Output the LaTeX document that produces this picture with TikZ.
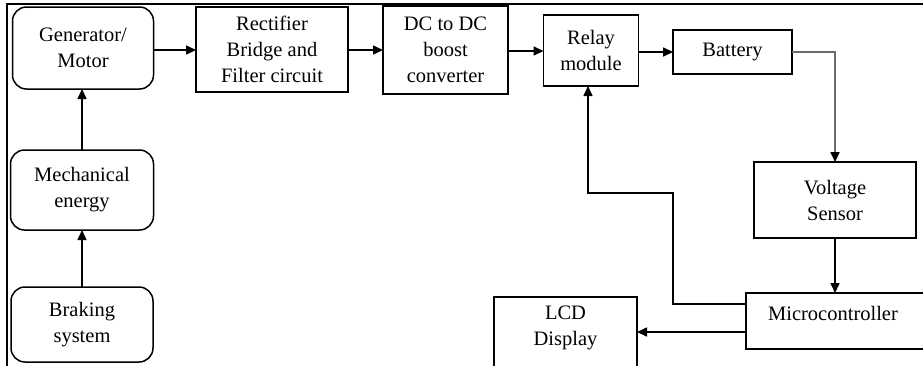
\documentclass[tikz,border=0pt]{standalone}
\usepackage{fontspec}
\setmainfont{Liberation Serif}
\usetikzlibrary{arrows.meta}
\begin{document}
\begin{tikzpicture}[x=1pt,y=-1pt,
  txt/.style={inner sep=0pt, outer sep=0pt, align=center, font=\fontsize{20.5}{26}\selectfont},
  blk/.style={txt, draw, line width=1.5pt},
  rblk/.style={blk, rounded corners=14pt},
  tip/.style={-{Triangle[length=10pt,width=9pt,color=black]}},
  arr/.style={line width=1.6pt, tip},
  frameline/.style={line width=2.2pt},
]
\useasboundingbox (0,0) rectangle (923,365);
% frame
\draw[frameline] (7,380) -- (7,4) -- (940,4);
% blocks
\node[rblk, minimum width=141pt, minimum height=82pt] (gen) at (83,48) {Generator/\\Motor};
\node[blk, minimum width=152pt, minimum height=85pt] (rect) at (272,49.5) {Rectifier\\Bridge and\\Filter circuit};
\node[blk, minimum width=125pt, minimum height=88pt] (dc) at (445.5,50) {DC to DC\\boost\\converter};
\node[blk, minimum width=95pt, minimum height=71pt] (relay) at (591,50.5) {Relay\\module};
\node[blk, minimum width=119pt, minimum height=44pt] (bat) at (732.5,52) {Battery};
\node[blk, minimum width=162pt, minimum height=76pt] (volt) at (835,200) {Voltage\\Sensor};
\node[blk, minimum width=180pt, minimum height=56pt] (micro) at (836,321) {};
\node[txt] (microtext) at (833,313) {Microcontroller};
\node[blk, minimum width=143pt, minimum height=90pt] (lcd) at (565.5,342) {};
\node[txt] (lcdtext) at (565.5,328) {LCD\\Display};
\node[rblk, minimum width=143pt, minimum height=80pt] (mech) at (82,190) {Mechanical\\energy};
\node[rblk, minimum width=142pt, minimum height=75pt] (brake) at (82,324.5) {Braking\\system};
\coordinate (fbA) at (673,193);
% connectors
\draw[arr] (brake.north) -- (brake.north |- mech.south);
\draw[arr] (mech.north) -- (mech.north |- gen.south);
\draw[arr] ([yshift=-2pt]gen.east) -- ([yshift=-2pt]gen.east -| rect.west);
\draw[arr] ([yshift=-0.5pt]rect.east) -- ([yshift=-0.5pt]rect.east -| dc.west);
\draw[arr] ([yshift=-1pt]dc.east) -- ([yshift=-1pt]dc.east -| relay.west);
\draw[arr] ([yshift=-1.5pt]relay.east) -- ([yshift=-1.5pt]relay.east -| bat.west);
\draw[line width=2.2pt, black!58, tip] (bat.east) -| (volt.north);
\draw[arr] (volt.south) -- (volt.south |- micro.north);
\draw[arr] ([yshift=17pt]micro.west) -| (fbA) -| ([xshift=-3pt]relay.south);
\draw[arr] ([yshift=-11pt]micro.west) -- ([yshift=-11pt]micro.west -| lcd.east);
\end{tikzpicture}
\end{document}
